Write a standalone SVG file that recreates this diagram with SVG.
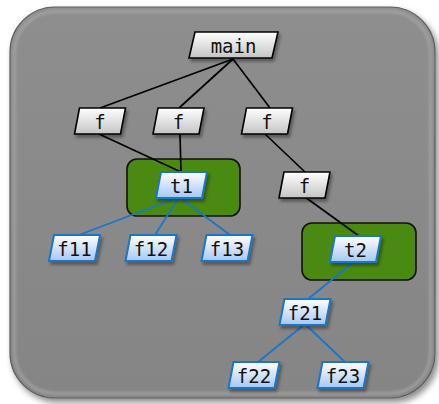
<svg xmlns="http://www.w3.org/2000/svg" xmlns:xlink="http://www.w3.org/1999/xlink" width="439" height="404" viewBox="0 0 439 404">
<defs>
<linearGradient id="gGrey" x1="0" y1="0" x2="0" y2="1">
<stop offset="0" stop-color="#ffffff"/>
<stop offset="1" stop-color="#c4c4c4"/>
</linearGradient>
<linearGradient id="gBlue" x1="0" y1="0" x2="0" y2="1">
<stop offset="0" stop-color="#ffffff"/>
<stop offset="1" stop-color="#a6c6f5"/>
</linearGradient>
<linearGradient id="gBg" x1="0" y1="0" x2="0" y2="1">
<stop offset="0" stop-color="#8e8e8e"/>
<stop offset="1" stop-color="#858585"/>
</linearGradient>
<filter id="shadow" x="-10%" y="-10%" width="125%" height="125%">
<feDropShadow dx="3" dy="4" stdDeviation="3" flood-color="#000" flood-opacity="0.45"/>
</filter>
<filter id="nshadow" x="-20%" y="-30%" width="150%" height="170%">
<feDropShadow dx="2" dy="3" stdDeviation="1.5" flood-color="#000" flood-opacity="0.35"/>
</filter>
<filter id="blur2"><feGaussianBlur stdDeviation="1.5"/></filter>
<path id="pg" d="M-20.5,0 H25.5 L20.5,26 H-25.5 Z"/>
<path id="pgm" d="M-38.5,0 H44.5 L38.5,26 H-44.5 Z"/>
<style>
.grey{fill:url(#gGrey);stroke:#000;stroke-width:1.6;filter:url(#nshadow)}
.blue{fill:url(#gBlue);stroke:#1a76c8;stroke-width:2;filter:url(#nshadow)}
.lbl{font-family:"DejaVu Sans Mono","Liberation Mono",monospace;font-size:19px;text-anchor:middle;fill:#111}
.box{fill:#4a8a10;stroke:#111;stroke-width:1.6}
.ck{stroke:#000;stroke-width:1.7;fill:none}
.cb{stroke:#1a76c8;stroke-width:1.8;fill:none}
</style>
</defs>

<g id="background">
<rect x="10" y="7" width="425" height="391" rx="45" fill="url(#gBg)" stroke="#5e5e5e" stroke-width="1.2" filter="url(#shadow)"/>
<rect x="14.5" y="11.5" width="416" height="382" rx="41" fill="none" stroke="#b0b0b0" stroke-width="2.5" opacity="0.7" filter="url(#blur2)"/>
</g>

<g id="thread-box-t1"><rect class="box" x="127" y="159" width="113" height="57" rx="10"/></g>
<g id="thread-box-t2"><rect class="box" x="302" y="223" width="114" height="57" rx="10"/></g>

<g id="connectors">
<line class="ck" x1="233" y1="59" x2="100" y2="108"/>
<line class="ck" x1="233" y1="59" x2="179" y2="108"/>
<line class="ck" x1="233" y1="59" x2="270" y2="108"/>
<line class="ck" x1="99" y1="134" x2="181" y2="172"/>
<line class="ck" x1="180" y1="134" x2="181" y2="172"/>
<line class="ck" x1="265" y1="134" x2="305" y2="172"/>
<line class="ck" x1="305" y1="197" x2="359" y2="236"/>
<line class="cb" x1="179" y1="197" x2="79" y2="235"/>
<line class="cb" x1="179" y1="197" x2="155" y2="235"/>
<line class="cb" x1="179" y1="197" x2="230" y2="235"/>
<line class="cb" x1="355" y1="261" x2="308" y2="299"/>
<line class="cb" x1="305" y1="324" x2="258" y2="362"/>
<line class="cb" x1="305" y1="324" x2="345" y2="362"/>
</g>

<g id="main" transform="translate(233.5,32)"><use xlink:href="#pgm" class="grey"/><text class="lbl" x="0" y="20.5">main</text></g>
<g id="f1" transform="translate(100,108)"><use xlink:href="#pg" class="grey"/><text class="lbl" x="0" y="20.5">f</text></g>
<g id="f2" transform="translate(178.5,108)"><use xlink:href="#pg" class="grey"/><text class="lbl" x="0" y="20.5">f</text></g>
<g id="f3" transform="translate(267,108)"><use xlink:href="#pg" class="grey"/><text class="lbl" x="0" y="20.5">f</text></g>
<g id="f4" transform="translate(304.5,172)"><use xlink:href="#pg" class="grey"/><text class="lbl" x="0" y="20.5">f</text></g>
<g id="t1" transform="translate(181.5,172)"><use xlink:href="#pg" class="blue"/><text class="lbl" x="0" y="20.5">t1</text></g>
<g id="f11" transform="translate(74.5,235)"><use xlink:href="#pg" class="blue"/><text class="lbl" x="0" y="20.5">f11</text></g>
<g id="f12" transform="translate(151,235)"><use xlink:href="#pg" class="blue"/><text class="lbl" x="0" y="20.5">f12</text></g>
<g id="f13" transform="translate(227,235)"><use xlink:href="#pg" class="blue"/><text class="lbl" x="0" y="20.5">f13</text></g>
<g id="t2" transform="translate(355.5,236)"><use xlink:href="#pg" class="blue"/><text class="lbl" x="0" y="20.5">t2</text></g>
<g id="f21" transform="translate(305,299)"><use xlink:href="#pg" class="blue"/><text class="lbl" x="0" y="20.5">f21</text></g>
<g id="f22" transform="translate(254,362)"><use xlink:href="#pg" class="blue"/><text class="lbl" x="0" y="20.5">f22</text></g>
<g id="f23" transform="translate(343,362)"><use xlink:href="#pg" class="blue"/><text class="lbl" x="0" y="20.5">f23</text></g>
</svg>
